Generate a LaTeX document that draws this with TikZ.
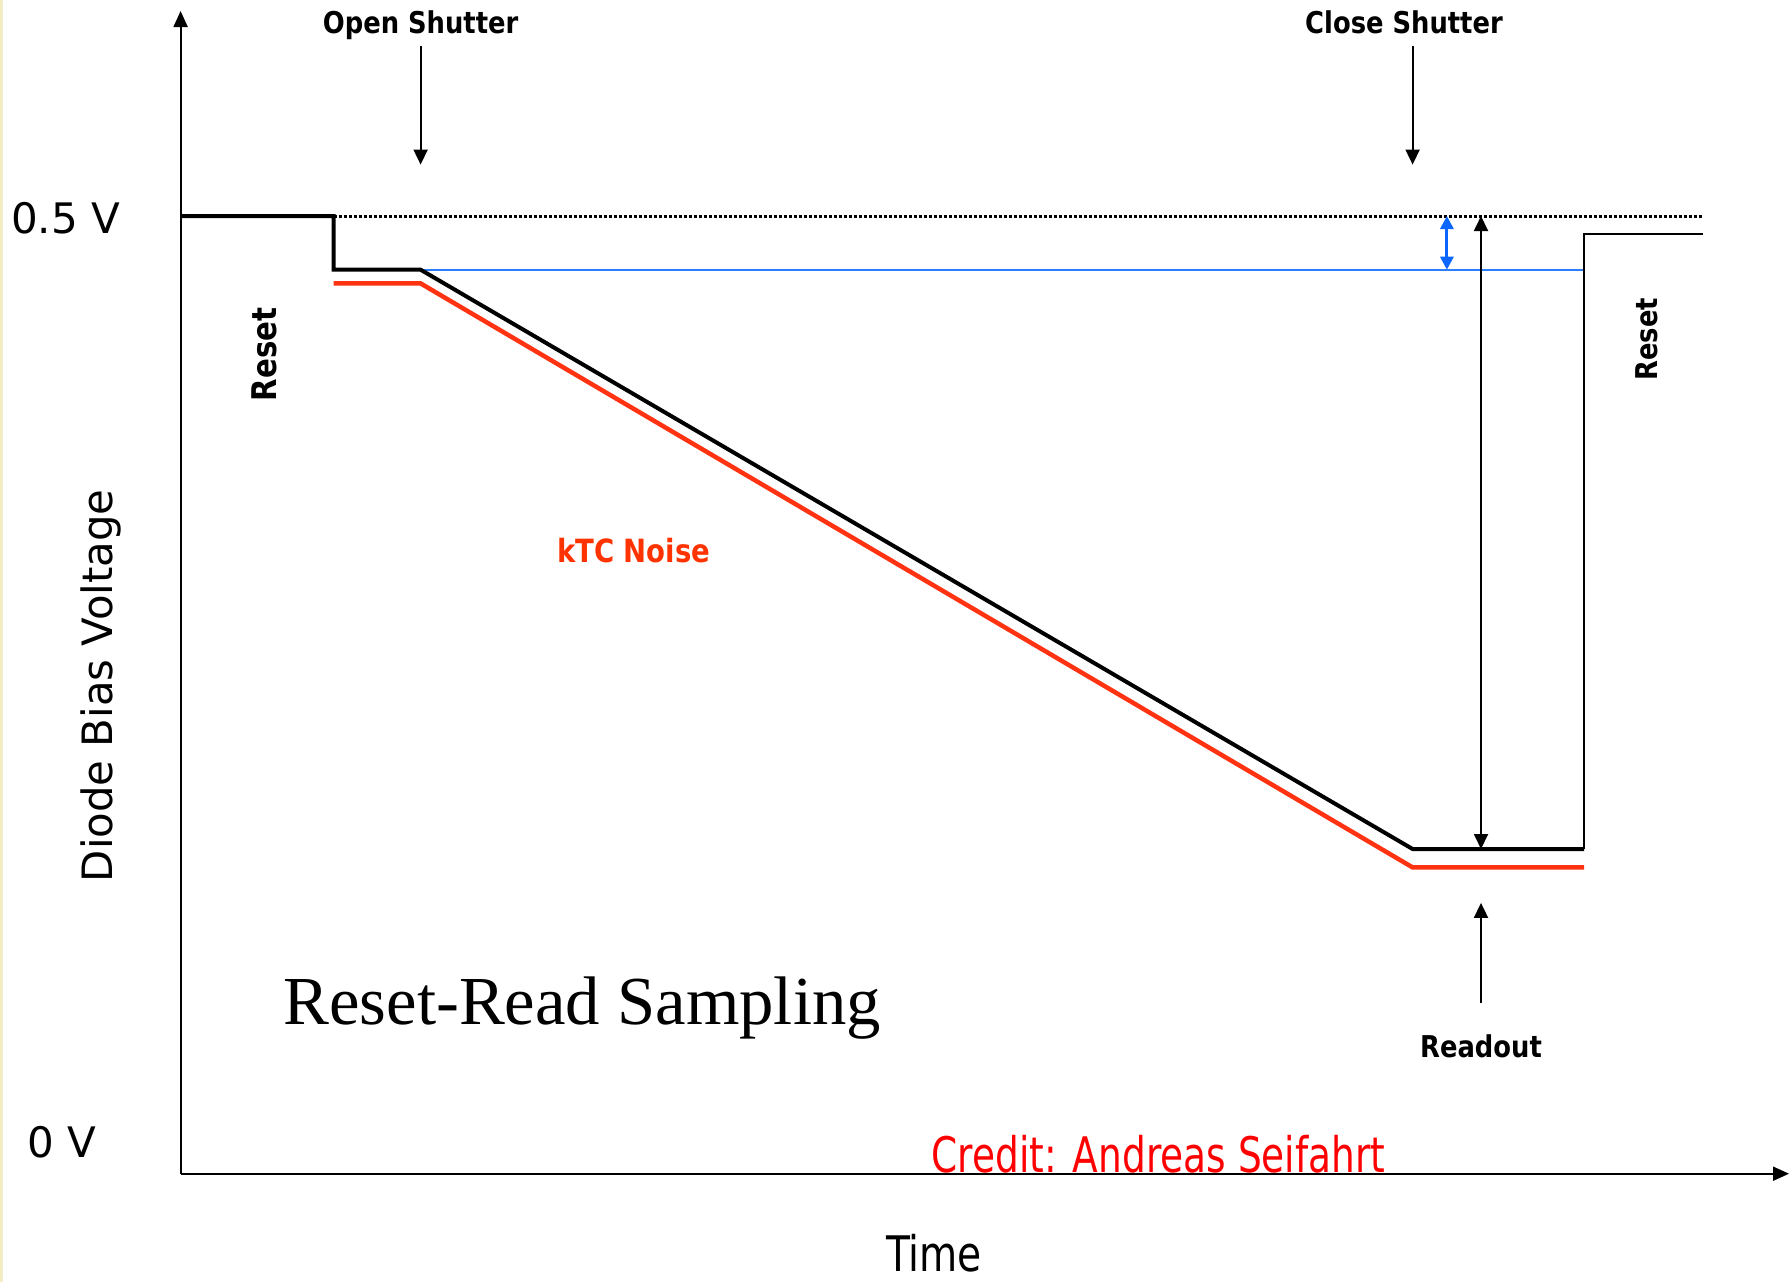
\documentclass[tikz,border=0pt]{standalone}
\usepackage{fontspec}
\usetikzlibrary{arrows.meta}
\newfontfamily\lblfam[FakeStretch=0.86]{DejaVu Sans}
\newfontfamily\condfam[FakeStretch=0.8]{DejaVu Sans}
\newfontfamily\credfam[FakeStretch=0.765]{DejaVu Sans}
\newfontfamily\regfam{DejaVu Sans}
\newfontfamily\serfam{Liberation Serif}
\definecolor{sigred}{HTML}{FF3311}
\definecolor{noisered}{HTML}{FF3300}
\definecolor{credred}{HTML}{FF0000}
\definecolor{refblue}{HTML}{2B7FFF}
\definecolor{arrblue}{HTML}{0A66FF}
\definecolor{edgeyellow}{HTML}{F3EDC4}
\begin{document}
\begin{tikzpicture}[x=1pt,y=-1pt,
  axis/.style={line width=2pt, -{Triangle[width=14pt,length=16pt]}},
  ptr/.style={line width=1.8pt, -{Triangle[width=14pt,length=15pt]}},
  dblptr/.style={line width=1.8pt, {Triangle[width=14pt,length=15pt]}-{Triangle[width=14pt,length=15pt]}},
  blueptr/.style={line width=3pt, draw=arrblue, {Triangle[width=13pt,length=13pt,fill=arrblue]}-{Triangle[width=13pt,length=13pt,fill=arrblue]}},
  sig/.style={line width=4pt, line join=miter},
  noise/.style={line width=4.5pt, draw=sigred, line join=miter},
  thinsig/.style={line width=2pt, line join=miter},
  refline/.style={line width=2pt, draw=refblue},
  dotline/.style={line width=3pt, dash pattern=on 3pt off 2pt},
  lbl/.style={font=\lblfam\bfseries\fontsize{30}{36}\selectfont, inner sep=0},
  vlbl/.style={font=\regfam\fontsize{42}{50}\selectfont, inner sep=0},
  clbl/.style={font=\condfam\fontsize{49}{58}\selectfont, inner sep=0},
]
\useasboundingbox (0,0) rectangle (1792,1282);
\fill[white] (0,0) rectangle (1792,1282);
\fill[edgeyellow] (0,0) rectangle (2.5,1282);

% axes
\coordinate (O) at (180.6,1173.7);
\coordinate (ytip) at (180.6,11);
\coordinate (xtip) at (1789,1173.7);
\draw[axis] (O) -- (ytip);
\draw[axis] (O) -- (xtip);

% signal points
\coordinate (s0) at (180.6,216);
\coordinate (s1) at (333.7,216);
\coordinate (s2) at (333.7,269.7);
\coordinate (s3) at (420.6,269.7);
\coordinate (s4) at (1412.6,849);
\coordinate (s5) at (1584,849);
\coordinate (s6) at (1584,234.3);
\coordinate (s7) at (1703,234.3);
\coordinate (d1) at (1703,216);
\coordinate (r1) at (333.7,283.4);
\coordinate (r2) at (420.6,283.4);
\coordinate (r3) at (1412.6,867.4);
\coordinate (r4) at (1584,867.4);

\draw[dotline] (s1) -- (d1);
\draw[refline] (s3) -- (s5 |- s3);
\draw[noise] (r1) -- (r2) -- (r3) -- (r4);
\draw[sig] (s0) -- (s1) -- (s2) -- (s3) -- (s4) -- (s5);
\draw[thinsig] (s5) -- (s6) -- (s7);

% blue and black double arrows
\coordinate (bA) at (1446.9,216);
\coordinate (bB) at (1446.9,269.7);
\draw[blueptr] (bA) -- (bB);
\coordinate (kA) at (1481,216);
\coordinate (kB) at (1481,849);
\draw[dblptr] (kA) -- (kB);

% labels with pointers
\node[lbl, anchor=base] (open) at (420.6,33) {Open Shutter};
\coordinate (openT) at (420.6,45.7);
\coordinate (openH) at (420.6,164.6);
\draw[ptr] (openT) -- (openH);

\node[lbl, anchor=base] (close) at (1404,33) {Close Shutter};
\coordinate (closeT) at (1412.6,45.7);
\coordinate (closeH) at (1412.6,164.6);
\draw[ptr] (closeT) -- (closeH);

\node[lbl, anchor=base] (readout) at (1481,1057) {Readout};
\coordinate (readT) at (1481,1003.4);
\coordinate (readH) at (1481,902.9);
\draw[ptr] (readT) -- (readH);

\node[lbl, font=\lblfam\bfseries\fontsize{34}{40}\selectfont, rotate=90, anchor=base] (resetL) at (276,354.3) {Reset};
\node[lbl, rotate=90, anchor=base] (resetR) at (1657,339.4) {Reset};

\node[lbl, font=\lblfam\bfseries\fontsize{32}{38}\selectfont, text=noisered, anchor=base] (ktc) at (633.7,562) {kTC Noise};

\node[vlbl, anchor=base west] (hv) at (11,233) {0.5 V};
\node[vlbl, anchor=base west] (zv) at (27,1157) {0 V};
\node[vlbl, font=\regfam\fontsize{41.8}{50}\selectfont, rotate=90, anchor=base] (ylab) at (112,685.7) {Diode Bias Voltage};

\node[font=\serfam\fontsize{68.7}{80}\selectfont, inner sep=0, anchor=base west] (title) at (283.4,1024) {Reset-Read Sampling};

\node[font=\credfam\fontsize{49}{58}\selectfont, inner sep=0, text=credred, anchor=base west] (credit) at (931.4,1172) {Credit: Andreas Seifahrt};
\node[clbl, anchor=base] (time) at (934,1271) {Time};
\end{tikzpicture}
\end{document}
